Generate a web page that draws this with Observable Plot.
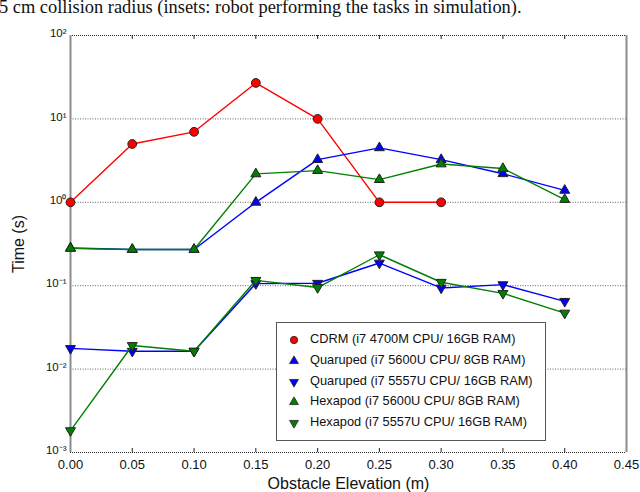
<!DOCTYPE html>
<html><head><meta charset="utf-8">
<script src="https://cdn.jsdelivr.net/npm/d3@7"></script>
<script src="https://cdn.jsdelivr.net/npm/@observablehq/plot@0.6"></script>
<style>
body{margin:0;background:#fff;}
#wrap{position:relative;width:640px;height:492px;overflow:hidden;}
#cap{position:absolute;left:-1px;top:-3px;font-family:"Liberation Serif","Times New Roman",serif;font-size:18.4px;line-height:20px;white-space:nowrap;color:#111;}
#legend{position:absolute;left:276px;top:322px;width:268px;height:117px;border:1px solid #555;background:#fff;font-family:"Liberation Sans",Arial,sans-serif;font-size:12.8px;color:#111;}
#legend .row{position:absolute;left:0;height:16px;line-height:16px;white-space:nowrap;}
#legend svg{position:absolute;left:11px;top:3px;}
#legend span{position:absolute;left:33px;top:0;}
</style></head><body>
<div id="wrap"><div id="plot"></div><div id="cap">5 cm collision radius (insets: robot performing the tasks in simulation).</div><div id="legend"></div></div>
<script>
const elevation = [0.00, 0.05, 0.10, 0.15, 0.20, 0.25, 0.30, 0.35, 0.40];
const cdrmElevation = [0.00, 0.05, 0.10, 0.15, 0.20, 0.25, 0.30];
const cdrm = [1, 5.0, 7.0, 27, 10, 1, 1];
const quadUp = [0.283, 0.272, 0.272, 1.0, 3.25, 4.5, 3.25, 2.2, 1.39];
const quadDown = [0.0177, 0.0164, 0.0164, 0.106, 0.107, 0.187, 0.094, 0.103, 0.065];
const hexUp = [0.28, 0.272, 0.272, 2.19, 2.4, 1.87, 2.88, 2.54, 1.08];
const hexDown = [0.00183, 0.0192, 0.0164, 0.116, 0.095, 0.235, 0.11, 0.081, 0.047];

const seriesNames = [
  "CDRM (i7 4700M CPU/ 16GB RAM)",
  "Quaruped (i7 5600U CPU/ 8GB RAM)",
  "Quaruped (i7 5557U CPU/ 16GB RAM)",
  "Hexapod (i7 5600U CPU/ 8GB RAM)",
  "Hexapod (i7 5557U CPU/ 16GB RAM)"
];
const seriesColors = ["#ff0000", "#0000ff", "#0000ff", "#008000", "#008000"];
const seriesSymbols = ["circle", "triangle", "triangle", "triangle", "triangle"];
const seriesRotate = [0, 0, 180, 0, 180];
const seriesR = [4.4, 3.7, 3.7, 3.7, 3.7];
const xTicks = [0, 0.05, 0.10, 0.15, 0.20, 0.25, 0.30, 0.35, 0.40, 0.45];
const yTicks = [1e-3, 1e-2, 1e-1, 1e0, 1e1, 1e2];
const gridTicks = [1e-2, 1e-1, 1e0, 1e1];

const seriesX = [cdrmElevation, elevation, elevation, elevation, elevation];
const seriesY = [cdrm, quadUp, quadDown, hexUp, hexDown];
const series = seriesY.map((ys, i) => ys.map((v, j) => ({x: seriesX[i][j], y: v, s: i})));

const sup = {"-":"⁻","0":"⁰","1":"¹","2":"²","3":"³"};
const fmt = d => "10" + String(Math.round(Math.log10(d))).split("").map(c => sup[c]).join("");

const W = 640, H = 492, mt = 35, mb = 40, ml = 70, mr = 14;
const ih = H - mt - mb;
const marks = [
  Plot.ruleY(gridTicks, {y: d => d, stroke: "#666", strokeDasharray: "1,1.5", strokeWidth: 1}),
  Plot.ruleY([1e-3, 1e2], {y: d => d, stroke: "#222", strokeDasharray: "1,1", strokeWidth: 1.2}),
  Plot.tickX(xTicks.slice(1, -1), {x: d => d, stroke: "#222", insetTop: ih - 4}),
  Plot.tickX(xTicks.slice(1, -1), {x: d => d, stroke: "#222", insetBottom: ih - 4}),
  Plot.ruleX([0, 0.45], {x: d => d, stroke: "#8c8c8c", strokeWidth: 2}),
  Plot.axisX({ticks: xTicks, tickFormat: d3.format(".2f"), tickSize: 0, tickPadding: 7, fontSize: 13,
    label: "Obstacle Elevation (m)", labelAnchor: "center", labelOffset: 36, labelArrow: "none"}),
  Plot.axisY({ticks: yTicks, tickFormat: fmt, tickSize: 0, tickPadding: 4, fontSize: 11.5, dy: -2,
    label: "Time (s)", labelAnchor: "center", labelOffset: 58, labelArrow: "none"})
];
series.forEach((data, i) => {
  marks.push(Plot.line(data, {x: "x", y: "y", stroke: seriesColors[i], strokeWidth: 1.4}));
  marks.push(Plot.dot(data, {x: "x", y: "y", symbol: seriesSymbols[i], rotate: seriesRotate[i],
    r: seriesR[i], fill: seriesColors[i], stroke: "#222", strokeWidth: 1}));
});

const chart = Plot.plot({
  width: W, height: H, marginTop: mt, marginBottom: mb, marginLeft: ml, marginRight: mr,
  x: {domain: [0, 0.45]},
  y: {type: "log", domain: [1e-3, 1e2]},
  style: {fontFamily: "'Liberation Sans', Arial, sans-serif", color: "#111", fontSize: "12px", background: "#fff", overflow: "visible"},
  marks
});
chart.querySelectorAll("text").forEach(t => {
  if (t.textContent === "Obstacle Elevation (m)" || t.textContent === "Time (s)") t.setAttribute("font-size", "16");
});
document.getElementById("plot").appendChild(chart);

// legend
const legend = document.getElementById("legend");
seriesNames.forEach((name, i) => {
  const row = document.createElement("div");
  row.className = "row";
  row.style.top = (8 + i * 20.8) + "px";
  row.style.width = "260px";
  const sym = seriesSymbols[i] === "circle" ? d3.symbolCircle : d3.symbolTriangle;
  const path = d3.symbol(sym, seriesSymbols[i] === "circle" ? 42 : 34)();
  row.innerHTML = `<svg width="12" height="12" viewBox="-6 -6 12 12"><path d="${path}" transform="rotate(${seriesRotate[i]})" fill="${seriesColors[i]}" stroke="#222" stroke-width="0.8"/></svg><span></span>`;
  row.querySelector("span").textContent = name;
  legend.appendChild(row);
});
</script>
</body></html>
